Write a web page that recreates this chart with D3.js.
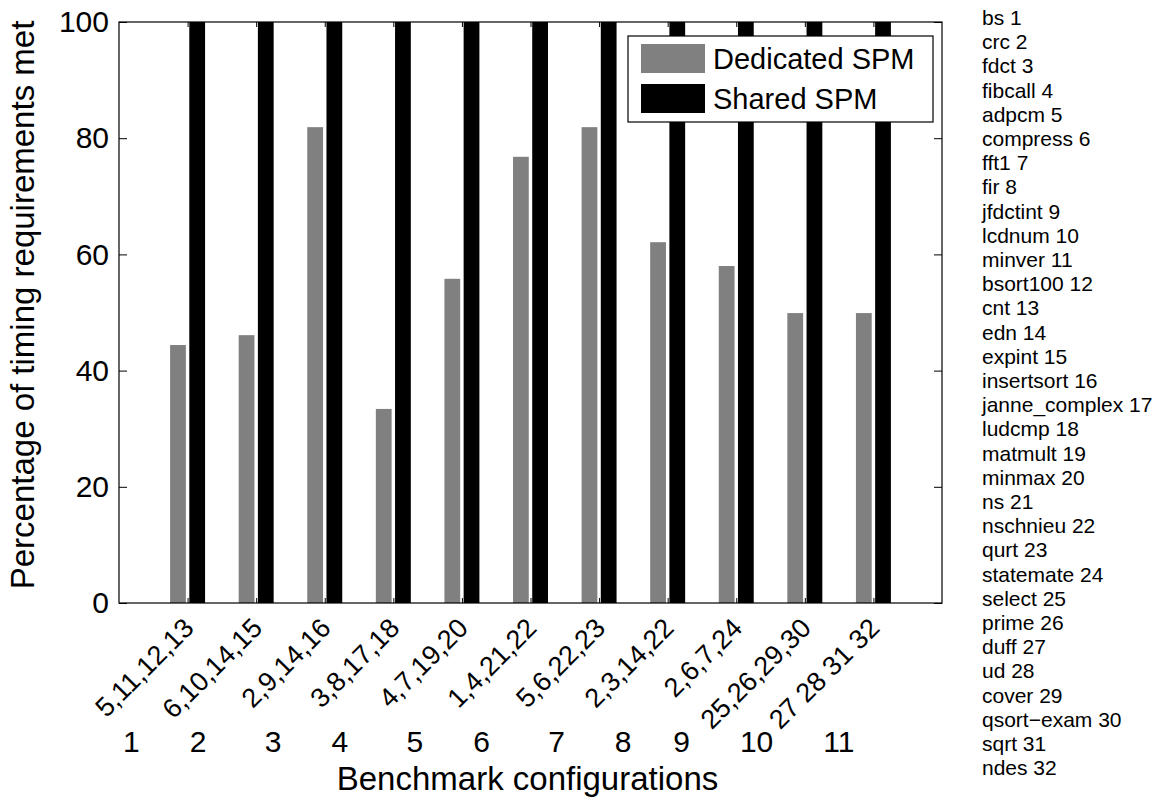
<!DOCTYPE html>
<html>
<head>
<meta charset="utf-8">
<script src="https://cdn.jsdelivr.net/npm/d3@7/dist/d3.min.js"></script>
<style>
  body { margin: 0; background: #fff; }
  text { font-family: "Liberation Sans", Arial, Helvetica, sans-serif; fill: #000; }
</style>
</head>
<body>
<div id="chart"></div>
<script>
// benchmark configurations (x categories)
var configs = [1, 2, 3, 4, 5, 6, 7, 8, 9, 10, 11];
var configSets = ["5,11,12,13", "6,10,14,15", "2,9,14,16", "3,8,17,18", "4,7,19,20",
    "1,4,21,22", "5,6,22,23", "2,3,14,22", "2,6,7,24", "25,26,29,30", "27 28 31 32"];
// the hand spaced number line under the rotated labels
var configNumberLine = "1      2       3      4       5      6       7      8     9      10      11";

// percentage of timing requirements met
var dedicated = [44.4, 46.1, 81.9, 33.4, 55.8, 76.8, 81.9, 62.1, 58.0, 49.9, 49.9];
var shared = [100, 100, 100, 100, 100, 100, 100, 100, 100, 100, 100];

var yTicks = [0, 20, 40, 60, 80, 100];

var benchmarks = ["bs", "crc", "fdct", "fibcall", "adpcm", "compress", "fft1", "fir",
    "jfdctint", "lcdnum", "minver", "bsort100", "cnt", "edn", "expint", "insertsort",
    "janne_complex", "ludcmp", "matmult", "minmax", "ns", "nschnieu", "qurt", "statemate",
    "select", "prime", "duff", "ud", "cover", "qsort\u2212exam", "sqrt", "ndes"];

var w = 1162,
    h = 799;

var plotLeft = 119, plotRight = 942, plotTop = 22, plotBottom = 603;

var svg = d3.select("#chart")
    .append("svg")
    .attr("width", w)
    .attr("height", h);

var x = d3.scaleLinear().domain([0, 12]).range([plotLeft, plotRight]);
var y = d3.scaleLinear().domain([0, 100]).range([plotBottom, plotTop]);

var barW = 0.23;
var series = [
    { name: "Dedicated SPM", values: dedicated, color: "#808080", offset: -0.14 },
    { name: "Shared SPM", values: shared, color: "#000000", offset: 0.14 }
];

// bars
series.forEach(function(s) {
    svg.append("g").selectAll("rect")
        .data(configs)
        .enter()
        .append("rect")
        .attr("x", function(d) { return x(d + s.offset - barW / 2); })
        .attr("width", function() { return x(barW) - x(0); })
        .attr("y", function(d, i) { return y(s.values[i]); })
        .attr("height", function(d, i) { return y(0) - y(s.values[i]); })
        .attr("fill", s.color);
});

// axes, ticks pointing inward on all four sides
svg.append("g")
    .attr("transform", "translate(" + plotLeft + ",0)")
    .call(d3.axisLeft(y).tickValues(yTicks).tickSize(-8).tickSizeOuter(0).tickPadding(10))
    .call(function(g) {
        g.select(".domain").remove();
        g.selectAll("text").attr("font-size", 30).attr("font-family", null);
    });

svg.append("g")
    .attr("transform", "translate(" + plotRight + ",0)")
    .call(d3.axisRight(y).tickValues(yTicks).tickSize(-8).tickSizeOuter(0).tickFormat(""))
    .call(function(g) { g.select(".domain").remove(); });

svg.append("g")
    .attr("transform", "translate(0," + plotBottom + ")")
    .call(d3.axisBottom(x).tickValues(configs).tickSize(-5).tickSizeOuter(0).tickFormat(""))
    .call(function(g) { g.select(".domain").remove(); });

svg.append("g")
    .attr("transform", "translate(0," + plotTop + ")")
    .call(d3.axisTop(x).tickValues(configs).tickSize(-5).tickSizeOuter(0).tickFormat(""))
    .call(function(g) { g.select(".domain").remove(); });

svg.append("rect")
    .attr("x", plotLeft)
    .attr("y", plotTop)
    .attr("width", plotRight - plotLeft)
    .attr("height", plotBottom - plotTop)
    .attr("fill", "none")
    .attr("stroke", "#000")
    .attr("stroke-width", 1.2);

// rotated configuration labels
svg.append("g").selectAll("text")
    .data(configs)
    .enter()
    .append("text")
    .attr("transform", function(d) { return "translate(" + (x(d) + 1) + "," + 623 + ") rotate(-45)"; })
    .attr("text-anchor", "end")
    .attr("dy", "0.35em")
    .attr("font-size", 27)
    .text(function(d, i) { return configSets[i]; });

svg.append("text")
    .attr("x", 123)
    .attr("y", 752)
    .attr("font-size", 30)
    .style("white-space", "pre")
    .text(configNumberLine);

// axis titles
svg.append("text")
    .attr("x", (plotLeft + plotRight) / 2 - 3)
    .attr("y", 790)
    .attr("text-anchor", "middle")
    .attr("font-size", 33)
    .text("Benchmark configurations");

svg.append("text")
    .attr("transform", "translate(34," + 305 + ") rotate(-90)")
    .attr("text-anchor", "middle")
    .attr("font-size", 33)
    .text("Percentage of timing requirements met");

// legend
var legend = svg.append("g").attr("transform", "translate(628,36)");
legend.append("rect")
    .attr("width", 305)
    .attr("height", 86)
    .attr("fill", "#fff")
    .attr("stroke", "#000")
    .attr("stroke-width", 1.2);
var items = legend.selectAll("g")
    .data(series)
    .enter()
    .append("g")
    .attr("transform", function(d, i) { return "translate(13," + (8 + i * 40) + ")"; });
items.append("rect")
    .attr("width", 64)
    .attr("height", 29)
    .attr("fill", function(d) { return d.color; });
items.append("text")
    .attr("x", 72)
    .attr("y", 15)
    .attr("dy", "0.35em")
    .attr("font-size", 29)
    .text(function(d) { return d.name; });

// benchmark index list on the right
svg.append("g").selectAll("text")
    .data(benchmarks)
    .enter()
    .append("text")
    .attr("x", 982)
    .attr("y", function(d, i) { return 25 + i * 24.2; })
    .attr("font-size", 21)
    .text(function(d, i) { return d + " " + (i + 1); });
</script>
</body>
</html>
